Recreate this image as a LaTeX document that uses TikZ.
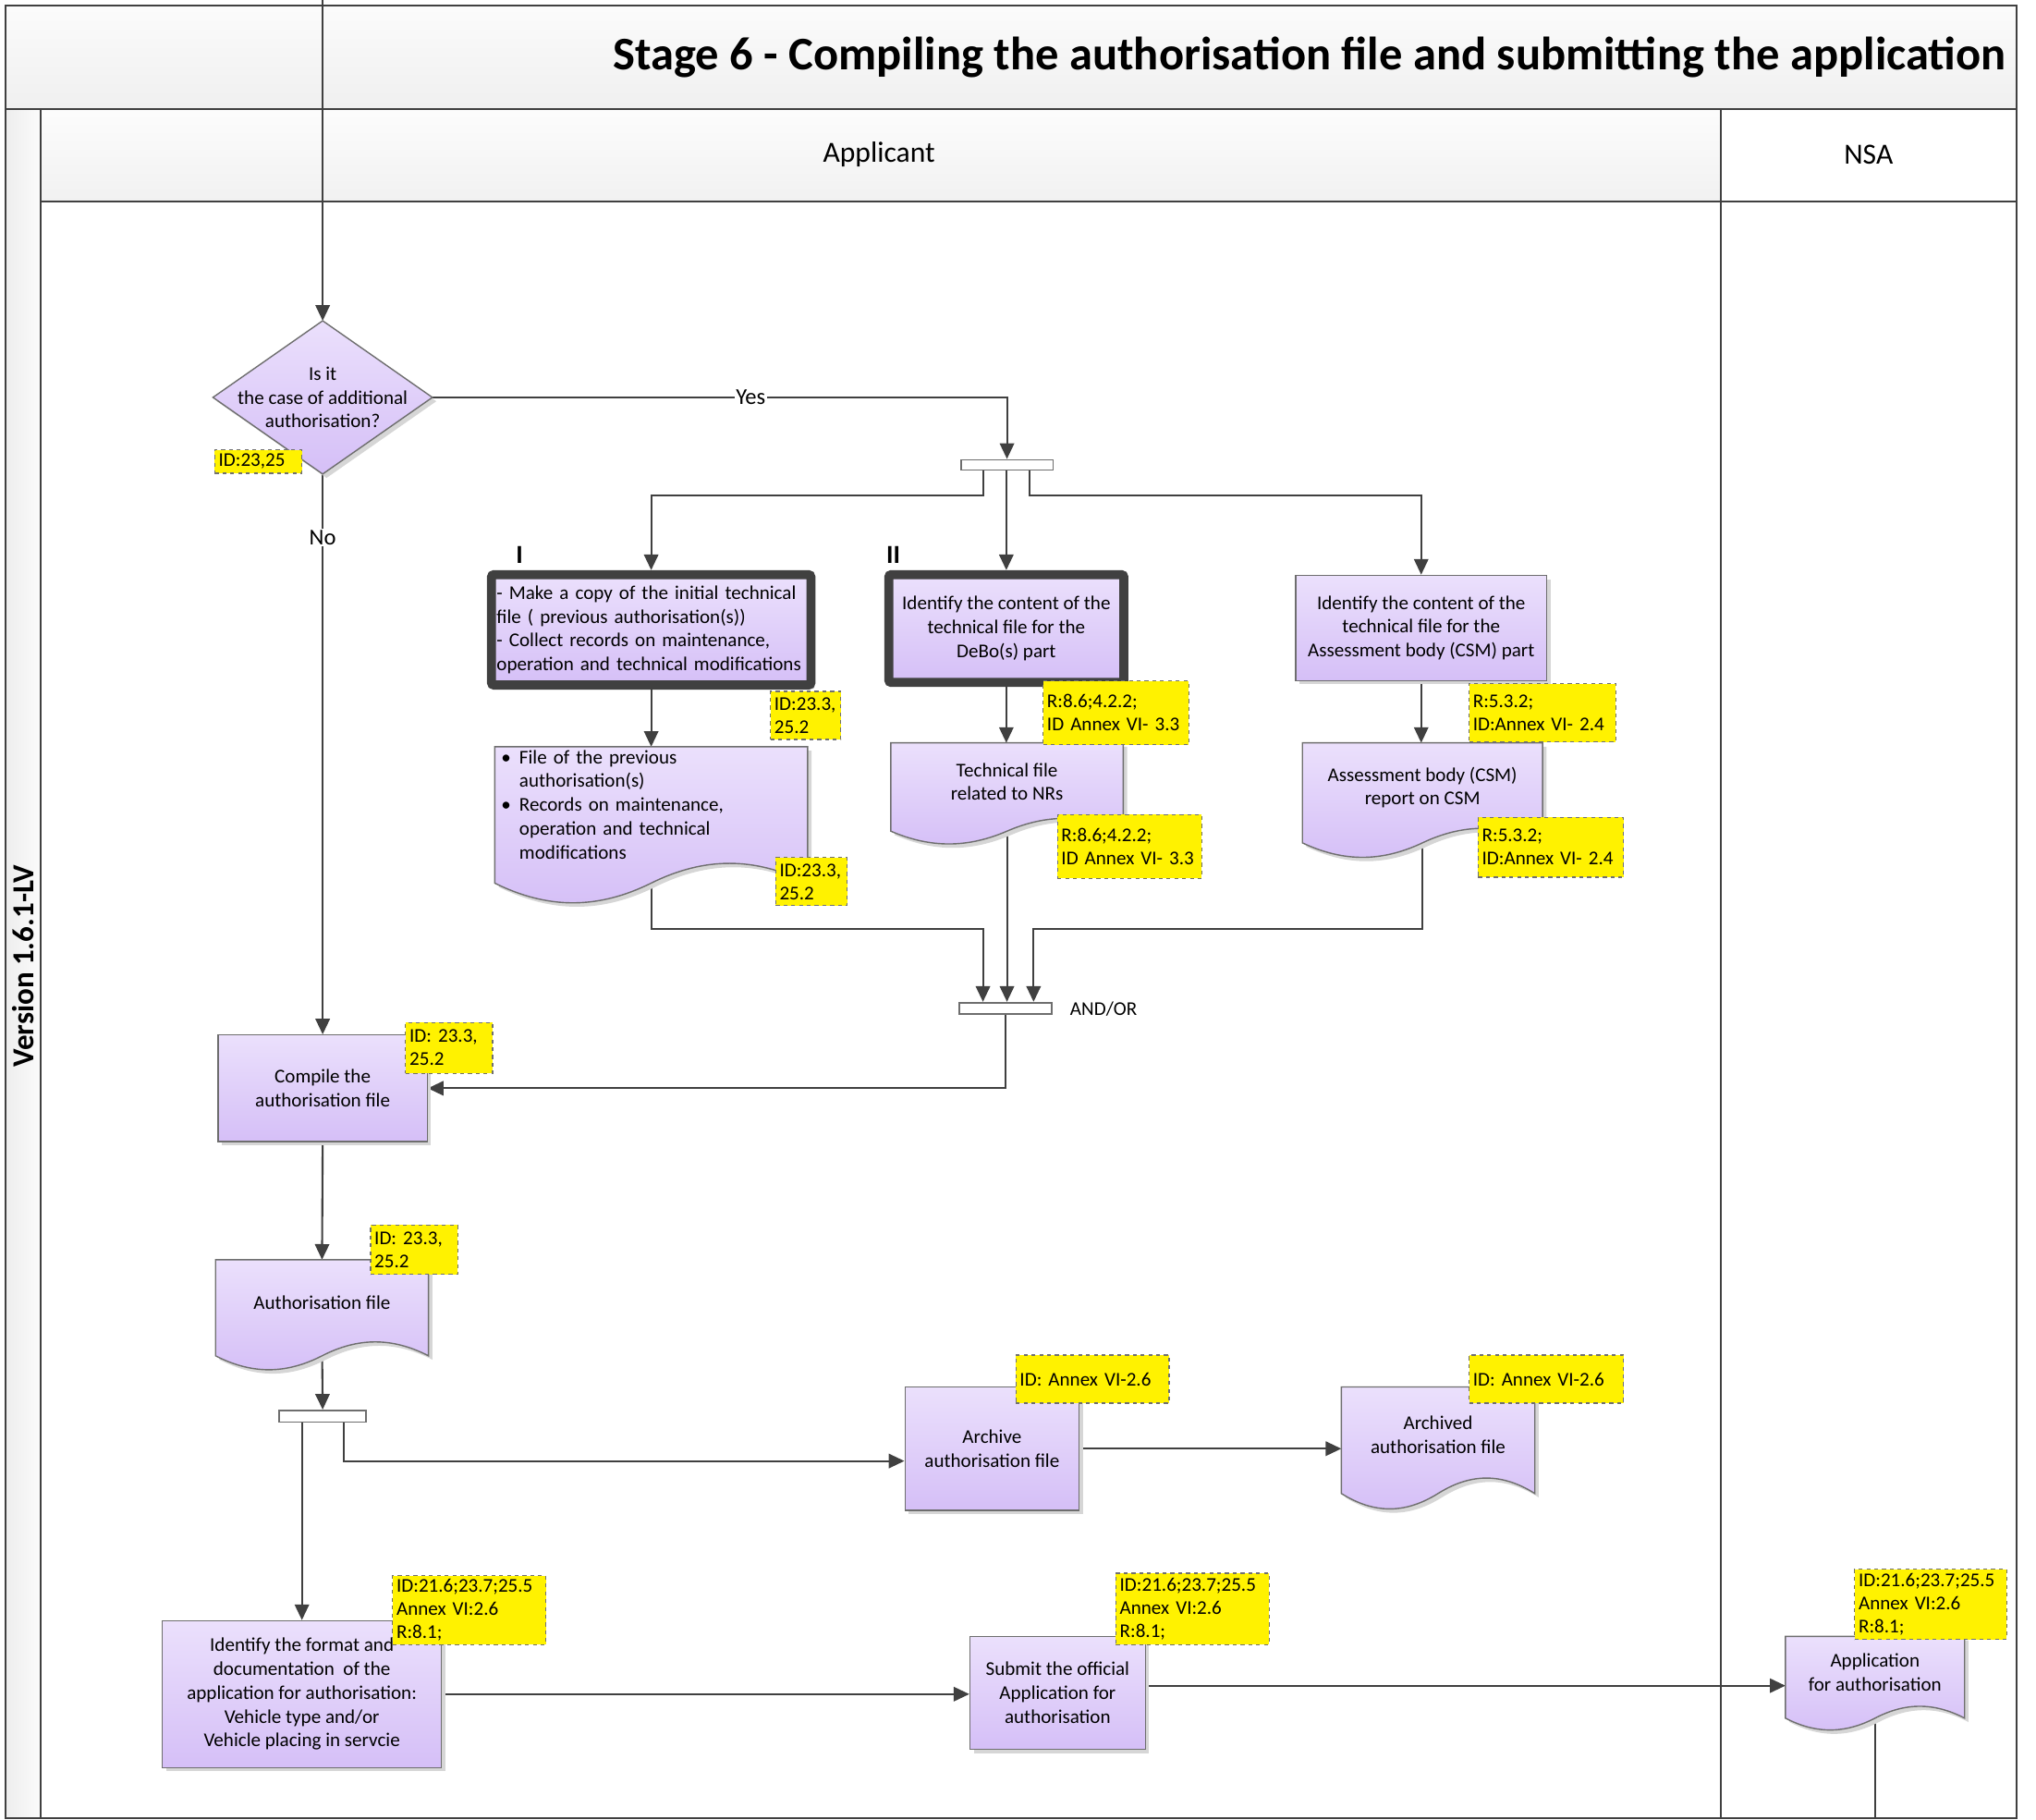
\documentclass[tikz,border=0pt]{standalone}
\usepackage{fontspec}
\setmainfont{Carlito}
\usetikzlibrary{arrows.meta,calc,shadows}

\pgfdeclarelayer{frame}\pgfdeclarelayer{conn}\pgfdeclarelayer{shp}
\pgfsetlayers{frame,conn,shp,main}

\definecolor{lavA}{HTML}{EBE0FC}
\definecolor{lavB}{HTML}{D5BFF7}
\definecolor{edgec}{HTML}{6E6E6E}
\definecolor{darkc}{HTML}{404040}
\definecolor{tagedge}{HTML}{707070}

\newcommand\bodyfont{\fontsize{15}{18.3}\selectfont}
\newcommand\tagfont{\fontsize{15}{17.8}\selectfont}
\newcommand\bul{\makebox[16pt][l]{\hspace{2pt}\textbullet}}
\newcommand\bulind{\hspace*{16pt}}

\tikzset{
  every node/.style={font=\bodyfont},
  shadowed/.style={general shadow={fill=black!16, shadow xshift=3pt, shadow yshift=-3pt}},
  procbox/.style={draw=edgec, line width=1pt, top color=lavA, bottom color=lavB,
    align=center, inner sep=2pt, shadowed},
  thickbox/.style={draw=darkc, line width=7pt, rounded corners=2pt, top color=lavA,
    bottom color=lavB, align=center, inner sep=2pt, shadowed},
  docnode/.style={draw=none, align=center, inner sep=2pt, outer sep=0pt},
  docshape/.style={draw=edgec, line width=1pt, top color=lavA, bottom color=lavB, shadowed},
  dectext/.style={draw=none, align=center, inner sep=0pt, outer sep=0pt,
    minimum width=169pt, minimum height=118pt},
  tagbox/.style={draw=tagedge, dashed, line width=0.8pt, fill=yellow, align=left,
    inner xsep=3pt, inner ysep=1pt, anchor=north west, font=\tagfont},
  barbox/.style={draw=edgec, fill=white, line width=1.2pt, minimum width=71pt,
    minimum height=8pt, inner sep=0pt},
  conn/.style={draw=darkc, line width=1.5pt, -{Triangle[length=12pt,width=11pt]}},
  plainline/.style={draw=darkc, line width=1.5pt},
  lbl/.style={fill=white, inner sep=1pt, font=\fontsize{17.5}{20}\selectfont},
  frameline/.style={draw=darkc, line width=1.4pt},
}

% #1 = node name, #2 = how far below the node's south edge the wave's mid line lies
\newcommand\docoutline[2]{%
  \path[docshape] let \p1=(#1.north west), \p2=($(#1.south east)+(0,#2)$),
    \n1={\x2-\x1}, \n2={0.143*(\y1-\y2)} in
    (\x1,\y1) -- (\x2,\y1) -- (\x2,\y2)
    .. controls ({\x2-0.17*\n1},{\y2+1.35*\n2}) and ({\x2-0.33*\n1},{\y2+1.35*\n2}) .. ({\x1+0.5*\n1},\y2)
    .. controls ({\x1+0.33*\n1},{\y2-1.35*\n2}) and ({\x1+0.17*\n1},{\y2-1.35*\n2}) .. (\x1,\y2) -- cycle;}

\begin{document}
\begin{tikzpicture}[x=1pt,y=-1pt]
\useasboundingbox (0,0) rectangle (1568,1401);

% ---------------- frame ----------------
\begin{pgfonlayer}{frame}
  \shade[top color=gray!3, bottom color=gray!12] (4,4) rectangle (1553,84);
  \shade[left color=gray!14, right color=gray!3] (4,84) rectangle (31,1400);
  \shade[top color=gray!2, bottom color=gray!11] (31,84) rectangle (1325,155);
  \draw[frameline] (4,4) rectangle (1553,1400);
  \draw[frameline] (4,84) -- (1553,84);
  \draw[frameline] (31,84) -- (31,1400);
  \draw[frameline] (31,155) -- (1553,155);
  \draw[frameline] (1325,84) -- (1325,1400);
\end{pgfonlayer}

\node[font=\fontsize{36}{42}\selectfont\bfseries, anchor=east, inner sep=0pt] (title) at (1545,44)
  {Stage 6 - Compiling the authorisation file and submitting the application};
\node[font=\fontsize{22.5}{26}\selectfont] (applicant) at (677,119) {Applicant};
\node[font=\fontsize{22.5}{26}\selectfont] (nsa) at (1439,119) {NSA};
\node[rotate=90, font=\fontsize{23.5}{28}\selectfont\bfseries] (ver) at (17.5,744) {Version 1.6.1-LV};

% ---------------- nodes ----------------
\node[dectext] (dec) at (248.5,306) {Is it\\the case of additional\\authorisation?};

\node[thickbox, minimum width=246pt, minimum height=85pt, text width=238pt, inner xsep=0pt, align=left]
  (b1) at (501.5,485) {- Make a copy of the initial technical\\file ( previous authorisation(s))\\- Collect records on maintenance,\\operation and technical modifications};
\node[thickbox, minimum width=181pt, minimum height=83pt] (b2) at (775,484)
  {Identify the content of the\\technical file for the\\DeBo(s) part};
\node[procbox, minimum width=193pt, minimum height=81pt] (b3) at (1094.5,483.5)
  {Identify the content of the\\technical file for the\\Assessment body (CSM) part};

\node[docnode, minimum width=241pt, minimum height=89pt, text width=235pt, inner xsep=3pt, align=left]
  (d1) at (501.5,619.5) {\bul File of the previous\\\bulind authorisation(s)\\\bul Records on maintenance,\\\bulind operation and technical\\\bulind modifications};
\node[docnode, minimum width=179pt, minimum height=60pt] (d2) at (775.5,602) {Technical file\\related to NRs};
\node[docnode, minimum width=185pt, minimum height=69pt] (d3) at (1095.5,606.5) {Assessment body (CSM)\\report on CSM};
\node[docnode, minimum width=164pt, minimum height=66pt] (d4) at (248,1003) {Authorisation file};
\node[docnode, minimum width=149pt, minimum height=74pt] (d5) at (1107.5,1105) {Archived\\authorisation file};
\node[docnode, minimum width=138pt, minimum height=55pt] (d6) at (1444,1287.5) {Application\\for authorisation};

\node[procbox, minimum width=161pt, minimum height=82pt] (comp) at (248.5,838) {Compile the\\authorisation file};
\node[procbox, minimum width=134pt, minimum height=95pt] (arc) at (764,1115.5) {Archive\\authorisation file};
\node[procbox, minimum width=215pt, minimum height=113pt] (fmt) at (232.5,1304.5)
  {Identify the format and\\documentation\ \ of the\\application for authorisation:\\Vehicle type and/or\\Vehicle placing in servcie};
\node[procbox, minimum width=135pt, minimum height=87pt] (sub) at (814.5,1303.5) {Submit the official\\Application for\\authorisation};

\node[barbox] (bar1) at (775.5,358) {};
\node[barbox, minimum height=9pt] (bar2) at (774.5,776.5) {};
\node[barbox, minimum width=67pt, minimum height=9pt] (bar3) at (248.5,1090.5) {};

\node[anchor=west, inner sep=0pt] (andor) at (824,777) {AND/OR};
\node[font=\fontsize{20}{24}\selectfont\bfseries, inner sep=0pt] (lI) at (400,427) {I};
\node[font=\fontsize{20}{24}\selectfont\bfseries, inner sep=0pt] (lII) at (688,427) {II};

% ---------------- tags ----------------
\node[tagbox, minimum width=67pt, text width=61pt, minimum height=18pt] (t0) at (165,346) {ID:23,25};
\node[tagbox, minimum width=54pt, text width=48pt, minimum height=37pt] (t1) at (593,532) {ID:23.3,\\25.2};
\node[tagbox, minimum width=55pt, text width=49pt, minimum height=37pt] (t2) at (597,660) {ID:23.3,\\25.2};
\node[tagbox, minimum width=112pt, text width=106pt, minimum height=49pt] (t3) at (803,524) {R:8.6;4.2.2;\\ID Annex VI- 3.3};
\node[tagbox, minimum width=111pt, text width=105pt, minimum height=49pt] (t4) at (814,627) {R:8.6;4.2.2;\\ID Annex VI- 3.3};
\node[tagbox, minimum width=113pt, text width=107pt, minimum height=45pt] (t5) at (1131,526) {R:5.3.2;\\ID:Annex VI- 2.4};
\node[tagbox, minimum width=112pt, text width=106pt, minimum height=46pt] (t6) at (1138,629) {R:5.3.2;\\ID:Annex VI- 2.4};
\node[tagbox, minimum width=67pt, text width=61pt, minimum height=39pt] (t7) at (312,787) {ID: 23.3,\\25.2};
\node[tagbox, minimum width=67pt, text width=61pt, minimum height=38pt] (t8) at (285,943) {ID: 23.3,\\25.2};
\node[tagbox, minimum width=118pt, text width=112pt, minimum height=37pt] (t9) at (782,1043) {ID: Annex VI-2.6};
\node[tagbox, minimum width=119pt, text width=113pt, minimum height=37pt] (t10) at (1131,1043) {ID: Annex VI-2.6};
\node[tagbox, minimum width=118pt, text width=112pt, minimum height=53pt] (t11) at (302,1213) {ID:21.6;23.7;25.5\\Annex VI:2.6\\R:8.1;};
\node[tagbox, minimum width=118pt, text width=112pt, minimum height=55pt] (t12) at (859,1211) {ID:21.6;23.7;25.5\\Annex VI:2.6\\R:8.1;};
\node[tagbox, minimum width=117pt, text width=111pt, minimum height=54pt] (t13) at (1428,1208) {ID:21.6;23.7;25.5\\Annex VI:2.6\\R:8.1;};

% ---------------- shapes drawn from node anchors ----------------
\begin{pgfonlayer}{shp}
  \path[docshape] (dec.north) -- (dec.east) -- (dec.south) -- (dec.west) -- cycle;
  \docoutline{d1}{16}
  \docoutline{d2}{8}
  \docoutline{d3}{8}
  \docoutline{d4}{8}
  \docoutline{d5}{8}
  \docoutline{d6}{8}
\end{pgfonlayer}

% ---------------- connectors ----------------
\begin{pgfonlayer}{conn}
  \coordinate (topin) at (248.5,0);
  \coordinate (yj) at (0,715);
  \coordinate (botout) at (1444,1401);
  \draw[conn] (topin) -- (dec.north);
  \draw[conn] (dec.east) -- node[lbl, pos=0.554] {Yes} (dec.east -| bar1.north) -- (bar1.north);
  \draw[conn] ([xshift=-18.5pt]bar1.south) -- ++(0,19) -| (b1.north);
  \draw[conn] (bar1.south -| b2.north) -- (b2.north);
  \draw[conn] ([xshift=17.5pt]bar1.south) -- ++(0,19) -| (b3.north);
  \draw[conn] (b1.south) -- (b1.south |- d1.north);
  \draw[conn] (b2.south) -- (b2.south |- d2.north);
  \draw[conn] (b3.south) -- (b3.south |- d3.north);
  \draw[conn] (d1.south) -- (d1.south |- yj) -| ([xshift=-17.5pt]bar2.north);
  \draw[conn] (d2.south) -- (d2.south |- bar2.north);
  \draw[conn] (d3.south) -- (d3.south |- yj) -| ([xshift=21.5pt]bar2.north);
  \draw[conn] (bar2.south) |- (comp.east);
  \draw[conn] (dec.south) -- node[lbl, pos=0.113] {No} (comp.north);
  \draw[conn] (comp.south) -- (d4.north);
  \draw[conn] (d4.south) -- (bar3.north);
  \draw[conn] (fmt.north |- bar3.south) -- (fmt.north);
  \draw[conn] ([xshift=16.5pt]bar3.south) |- ([yshift=-9.5pt]arc.west);
  \draw[conn] (arc.east) -- (arc.east -| d5.west);
  \draw[conn] (fmt.east) -- (fmt.east -| sub.west);
  \draw[conn] ([yshift=5.5pt]sub.east) -- ([yshift=5.5pt]sub.east -| d6.west);
  \draw[plainline] (d6.south) -- (botout);
\end{pgfonlayer}
\end{tikzpicture}
\end{document}
